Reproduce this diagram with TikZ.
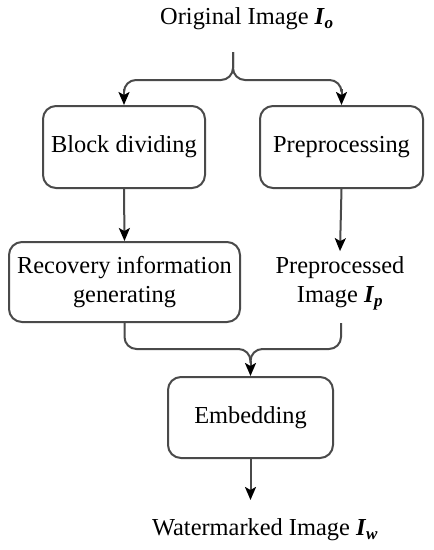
\documentclass[tikz,border=0pt]{standalone}
\usepackage{fontspec}
\setmainfont{LiberationSerif}[Extension=.ttf, UprightFont=*-Regular, BoldFont=*-Bold, ItalicFont=*-Italic, BoldItalicFont=*-BoldItalic]
\usetikzlibrary{arrows.meta}
\definecolor{linegray}{HTML}{4A4A4A}
\newcommand{\imgvar}[1]{\textbf{\textit{I\kern0.5pt\textsubscript{#1}}}}
\begin{document}
\begin{tikzpicture}[x=1pt,y=-1pt,
  every node/.style={font=\rmfamily\fontsize{24.4}{29}\selectfont, text=black},
  procbox/.style={draw=linegray, line width=2pt, rounded corners=13pt, inner sep=0pt, align=center},
  plaintext/.style={inner sep=0pt, align=center},
  conn/.style={draw=linegray, line width=2pt, -{Stealth[length=13pt,width=11pt,inset=3pt,fill=black,color=black]}},
  plainline/.style={draw=linegray, line width=2pt, rounded corners=12pt}]
\useasboundingbox (0,0) rectangle (434,550);
\node[plaintext] (orig) at (247,19) {Original Image \imgvar{o}};
\node[procbox, minimum width=162pt, minimum height=82pt] (block) at (124,147) {Block dividing};
\node[procbox, minimum width=163pt, minimum height=82pt] (prep) at (341.5,147) {Preprocessing};
\node[procbox, minimum width=231pt, minimum height=80pt] (recov) at (124.5,282) {Recovery information\\generating};
\node[plaintext] (pimg) at (340,283) {Preprocessed\\Image \imgvar{p}};
\node[procbox, minimum width=165pt, minimum height=81pt] (embed) at (250.5,417.5) {Embedding};
\node[plaintext] (wm) at (265,530) {Watermarked Image \imgvar{w}};
\coordinate (split) at (233,52);
\coordinate (splitmid) at (233,80);
\coordinate (pimgbot) at (341,323);
\coordinate (merge) at (250.5,349);
% top brace
\draw[plainline] (split) -- (splitmid) -- (block.north |- splitmid) -- ([yshift=14pt]block.north);
\draw[plainline] (split) -- (splitmid) -- (prep.north |- splitmid) -- ([yshift=14pt]prep.north);
\draw[conn] ([yshift=16pt]block.north) -- (block.north);
\draw[conn] ([yshift=16pt]prep.north) -- (prep.north);
% middle arrows
\draw[conn] (block.south) -- (recov.north);
\draw[conn] (prep.south) -- ([yshift=5pt]pimg.north);
% bottom merge
\draw[plainline] (recov.south) -- (recov.south |- merge) -- (merge) -- ([yshift=-14pt]merge);
\draw[plainline] (pimgbot) -- (pimgbot |- merge) -- (merge) -- ([yshift=-14pt]merge);
\draw[conn] ([yshift=-12pt]merge) -- (embed.north);
\draw[conn] (embed.south) -- (250.5,500);
\end{tikzpicture}
\end{document}
